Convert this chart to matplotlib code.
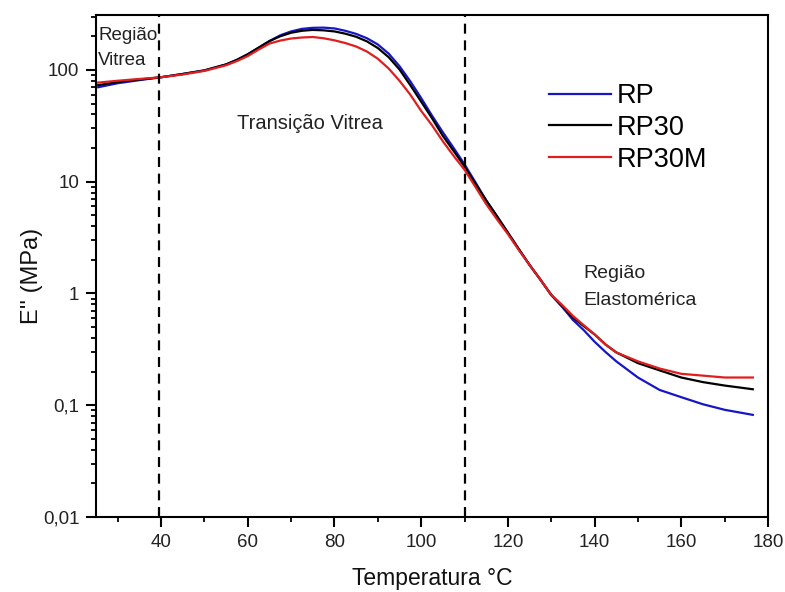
import matplotlib
matplotlib.use("Agg")
import matplotlib.pyplot as plt
from matplotlib.ticker import FixedLocator, LogLocator, NullFormatter, MultipleLocator

plt.rcParams['font.family'] = ['Liberation Sans', 'DejaVu Sans']

# Temperature (°C)
temperature = [25.5, 30, 35, 40, 45, 50, 55, 57.5, 60, 62.5, 65, 67.5, 70, 72.5,
               75, 77.5, 80, 82.5, 85, 87.5, 90, 92.5, 95, 97.5, 100, 102.5,
               105, 107.5, 110, 112.5, 115, 117.5, 120, 122.5, 125, 127.5, 130,
               132.5, 135, 137.5, 140, 142.5, 145, 150, 155, 160, 165, 170, 176.5]

# Loss modulus E'' (MPa)
rp = [70, 76, 81, 86, 92, 99, 112, 123, 138, 158, 181, 204, 221, 233,
      238, 239, 235, 224, 210, 192, 169, 140, 108, 79, 56, 39,
      27.7, 20, 14.3, 9.9, 6.8, 4.9, 3.5, 2.5, 1.8, 1.33, 0.97,
      0.76, 0.58, 0.47, 0.37, 0.30, 0.247, 0.177, 0.137, 0.118, 0.102, 0.091, 0.082]
rp30 = [73, 78, 82, 86, 92, 99, 112, 123, 138, 158, 181, 200, 215, 224,
        228, 226, 221, 211, 198, 180, 157, 130, 101, 73, 52, 37,
        25.7, 18.8, 13.7, 9.6, 6.8, 4.9, 3.5, 2.5, 1.8, 1.33, 0.97,
        0.77, 0.61, 0.51, 0.43, 0.35, 0.297, 0.238, 0.205, 0.177, 0.161, 0.150, 0.139]
rp30m = [77, 80, 83, 86, 91, 98, 110, 120, 133, 152, 172, 183, 191, 195,
         197, 192, 184, 174, 162, 146, 126, 103, 80, 60, 43, 32,
         23, 17, 12.8, 9.0, 6.3, 4.6, 3.4, 2.45, 1.8, 1.33, 0.97,
         0.79, 0.63, 0.52, 0.43, 0.35, 0.297, 0.247, 0.213, 0.191, 0.184, 0.177, 0.177]

series_names = ['RP', 'RP30', 'RP30M']
series_colors = ['#1616c8', '#000000', '#e01e1e']

region_lines = [39.6, 110]

y_ticks = [0.01, 0.1, 1, 10, 100]
y_tick_labels = ['0,01', '0,1', '1', '10', '100']
x_ticks = [40, 60, 80, 100, 120, 140, 160, 180]

fig = plt.figure(figsize=(7.85, 5.92), dpi=100)
ax = fig.add_axes([96 / 785, 1 - 517 / 592, 672 / 785, 502 / 592])

for vals, name, col in zip([rp, rp30, rp30m], series_names, series_colors):
    ax.plot(temperature, vals, color=col, lw=1.6, label=name)

for xv in region_lines:
    ax.axvline(xv, color='black', lw=1.6, ls=(0, (4.5, 3)))

ax.set_yscale('log')
ax.set_xlim(25, 180)
ax.set_ylim(0.01, 310)

ax.yaxis.set_major_locator(FixedLocator(y_ticks))
ax.set_yticklabels(y_tick_labels)
ax.yaxis.set_minor_locator(LogLocator(base=10, subs=range(2, 10), numticks=20))
ax.yaxis.set_minor_formatter(NullFormatter())
ax.set_xticks(x_ticks)
ax.xaxis.set_minor_locator(MultipleLocator(10))

for s in ax.spines.values():
    s.set_linewidth(1.5)
ax.tick_params(which='major', direction='out', length=7, width=1.5, labelsize=13.5,
               top=False, right=False, pad=5, labelcolor='#222222')
ax.tick_params(which='minor', direction='out', length=3.5, width=1.3,
               top=False, right=False)

ax.set_xlabel('Temperatura °C', fontsize=16.5, labelpad=12, color='#111111')
ax.set_ylabel("E'' (MPa)", fontsize=17, color='#111111')
ax.yaxis.set_label_coords(-0.079, 0.48)

ax.text(25.5, 240, 'Região\nVitrea', fontsize=13.5, ha='left', va='top',
        linespacing=1.6, color='#222222')
ax.text(74.3, 33, 'Transição Vitrea', fontsize=14.5, ha='center', va='center',
        color='#222222')
ax.text(137.4, 1.78, 'Região\nElastomérica', fontsize=14, ha='left', va='top',
        linespacing=1.7, color='#222222')

ax.legend(loc='upper left', bbox_to_anchor=((549 - 96) / 672, (517 - 83) / 502),
          frameon=False, fontsize=19.5, handlelength=2.3, handletextpad=0.2,
          labelspacing=0.22, borderpad=0, borderaxespad=0)

fig.savefig('out.png', dpi=100)
